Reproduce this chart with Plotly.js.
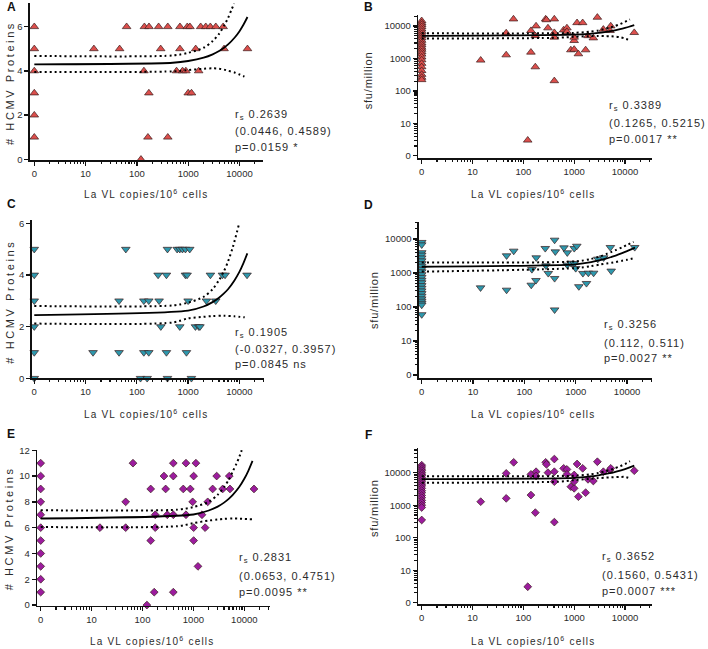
<!DOCTYPE html>
<html><head><meta charset="utf-8">
<script src="https://cdn.plot.ly/plotly-3.0.1.min.js"></script>
<style>html,body{margin:0;padding:0;background:#fff}#chart{width:708px;height:649px}</style>
</head><body><div id="chart"></div>
<script>
// ---------- DATA (x = La VL copies/10^6 cells, 0 drawn at the "1" position) ----------
const xTickVals = [1, 10, 100, 1000, 10000];
const xTickText = ['0', '10', '100', '1000', '10000'];
const yLogTickVals = [1, 10, 100, 1000, 10000];
const yLogTickText = ['0', '10', '100', '1000', '10000'];

// Panel A: # HCMV proteins (triangles, red)
const aX = [0,0,0,0,0,0, 63,140,172,265,400,690,960,1080,1750,2200,2700,3450,4800, 14.5,46,291,690,1400,5000,14300, 137,593,776,900,1600, 171,1000,1160, 164,400, 120];
const aY = [6,5,4,3,2,1, 6,6,6,6,6,6,6,6,6,6,6,6,6, 5,5,5,5,5,5,5, 4,4,4,4,4, 3,3,3, 1,1, 0];
const aFitX = [0, 500, 1000, 2000, 3000, 4000, 5000, 6000, 8000, 10000, 12000, 14300];
const aFitY = [4.30, 4.37, 4.45, 4.60, 4.75, 4.90, 5.05, 5.20, 5.50, 5.80, 6.10, 6.44];
const aUpX = [0, 500, 1000, 2000, 3000, 4000, 5000, 6000, 7000, 7900];
const aUpY = [4.68, 4.70, 4.82, 5.05, 5.35, 5.68, 6.05, 6.40, 6.78, 7.05];
const aLoX = [0, 500, 1000, 2000, 3000, 4000, 5000, 6000, 8000, 10000, 12000, 14300];
const aLoY = [3.95, 3.98, 4.04, 4.10, 4.12, 4.10, 4.06, 4.01, 3.93, 3.84, 3.76, 3.68];

// Panel B: sfu/million (triangles, red)
const bX = [0,0,0,0,0,0,0,0,0,0,0,0,0,0,0,0,0,0,0,0,0,0,0,0,
  14.5,46,46,64,122,141,141,172,178,172,275,285,305,407,407,407,407,620,720,720,860,1000,1000,1000,1140,1210,1470,1680,1870,2380,2860,3750,5070,5240,15200];
const bY = [14500,12500,11000,9500,8000,6800,5800,5000,4300,3600,3000,2600,2200,1900,1600,1350,1100,900,700,550,420,320,260,220,
  880,6100,1280,16400,3,7200,1550,547,10000,5000,16400,15500,8700,6240,4500,16400,204,7530,8700,6700,1830,1900,3540,4500,12600,1380,12600,1830,5000,4270,18500,7900,7200,10000,6250];
const bFitX = [0, 1000, 2000, 3000, 4000, 5000, 6000, 8000, 10000, 12000, 15200];
const bFitY = [5000, 5400, 5750, 6100, 6500, 6900, 7250, 8000, 8750, 9500, 10700];
const bUpX = [0, 500, 1000, 2000, 3000, 4000, 5000, 6000, 8000, 10000, 12500];
const bUpY = [5950, 5980, 6150, 6650, 7300, 8100, 8900, 9700, 11500, 13500, 16000];
const bLoX = [0, 500, 1000, 2000, 3000, 4000, 5000, 6000, 8000, 10000, 12500];
const bLoY = [4100, 4350, 4650, 4880, 4950, 4900, 4850, 4750, 4500, 4100, 3650];

// Panel C: # HCMV proteins (inverted triangles, teal)
const cX = [0,0,0,0,0,0, 61,396,611,688,776,887,1075, 260,378,887,956,2722,4670,5260,14100, 45,137,171,272,1000,2276,3459, 294,688,1390,1614,1700, 14,45,137,171,378,929, 118,159,396,1160];
const cY = [5,4,3,2,1,0, 5,5,5,5,5,5,5, 4,4,4,4,4,4,4,4, 3,3,3,3,3,3,3, 2,2,2,2,2, 1,1,1,1,1,1, 0,0,0,0];
const cFitX = [0, 1000, 2000, 3000, 4000, 5000, 6000, 8000, 10000, 12000, 14300];
const cFitY = [2.45, 2.62, 2.78, 2.95, 3.12, 3.29, 3.45, 3.79, 4.12, 4.46, 4.84];
const cUpX = [0, 500, 1000, 2000, 3000, 4000, 5000, 6000, 7500, 9800];
const cUpY = [2.80, 2.82, 2.93, 3.15, 3.45, 3.80, 4.15, 4.52, 5.10, 5.96];
const cLoX = [0, 500, 1000, 2000, 3000, 5000, 8000, 12700];
const cLoY = [2.12, 2.16, 2.32, 2.38, 2.41, 2.42, 2.40, 2.36];

// Panel D: sfu/million (inverted triangles, teal)
const dX = [0,0,0,0,0,0,0,0,0,0,0,0,0,0,0,0,0,0,0,0,0,0,0,0,
  14,45,45,62,136,140,168,170,255,263,292,388,388,388,400,590,685,685,807,935,935,1000,1050,1150,1380,1620,1760,2230,2690,3500,4730,4910,14100];
const dY = [8000,6800,4000,3400,2800,2300,1900,1600,1300,1100,900,750,620,520,430,360,300,250,210,175,150,130,115,60,
  370,3240,316,4440,443,1280,608,2830,5320,1640,980,9350,697,83,4240,5560,3970,1720,1960,5320,1900,1370,6200,400,980,497,1000,1000,2580,2830,5690,1150,5690];
const dFitX = [0, 1000, 2000, 3000, 4000, 5000, 6000, 8000, 10000, 12000, 14300];
const dFitY = [1530, 1800, 2080, 2400, 2680, 2980, 3260, 3830, 4400, 4970, 5600];
const dUpX = [0, 1000, 2000, 3000, 4000, 5000, 6000, 8000, 10000, 13400];
const dUpY = [2050, 2200, 2600, 3100, 3650, 4200, 4700, 5700, 6700, 8300];
const dLoX = [0, 1000, 2000, 3000, 4000, 5000, 6000, 8000, 10000, 14300];
const dLoY = [1100, 1400, 1600, 1780, 1900, 2000, 2100, 2300, 2450, 2800];

// Panel E: # HCMV proteins (diamonds, purple)
const eX = [0,0,0,0,0,0,0,0,0,0,0,
  14.6,46.7,46.7,65,122,145,145,170,178,178,264,285,307,403,403,403,403,632,715,715,870,966,1011,1011,1011,1120,1230,1475,1700,1910,2390,2866,3760,5070,5230,15500];
const eY = [11,10,9,8,7,6,5,4,3,2,1,
  6,8,6,11,0,9,5,1,7,6,10,9,7,11,10,7,1,9,11,7,9,8,10,6,5,11,3,7,6,8,9,10,9,10,9,9];
const eFitX = [0, 1000, 2000, 3000, 4000, 5000, 6000, 8000, 10000, 12000, 14500];
const eFitY = [6.71, 7.02, 7.33, 7.63, 7.94, 8.25, 8.56, 9.17, 9.79, 10.41, 11.18];
const eUpX = [0, 500, 1000, 2000, 3000, 4000, 5000, 6000, 7000, 8000, 8900];
const eUpY = [7.35, 7.40, 7.60, 8.00, 8.55, 9.15, 9.75, 10.40, 10.95, 11.50, 12.0];
const eLoX = [0, 500, 1000, 2000, 3000, 4000, 6000, 8000, 10000, 14500];
const eLoY = [6.05, 6.12, 6.35, 6.55, 6.63, 6.68, 6.71, 6.70, 6.68, 6.65];

// Panel F: sfu/million (diamonds, purple)
const fX = [0,0,0,0,0,0,0,0,0,0,0,0,0,0,0,0,0,0,0,0,0,0,
  14.5,46,46,64.5,122,141,141,172,178,178,275,285,305,407,407,407,407,620,720,720,860,1000,1000,1000,1140,1210,1470,1680,1870,2380,2860,3750,5070,5240,15200];
const fY = [17000,15000,13000,11500,10000,9000,8000,7000,6000,5200,4500,3900,3300,2800,2400,2000,1700,1400,1200,1000,850,350,
  1280,9530,1620,20800,3.1,8900,2050,590,10700,7900,20800,18000,10000,26300,10700,5290,302,13600,12600,8900,3700,3300,5290,8500,18500,1830,13600,2430,6240,5540,21700,10700,12000,13600,11500];
const fFitX = [0, 1000, 2000, 3000, 4000, 5000, 6000, 8000, 10000, 12000, 15200];
const fFitY = [6300, 6965, 7630, 8295, 8960, 9625, 10290, 11620, 12950, 14280, 16400];
const fUpX = [0, 500, 1000, 2000, 3000, 4000, 5000, 6000, 8000, 10000, 12500];
const fUpY = [7800, 7850, 8000, 8800, 9800, 10900, 12100, 13300, 15800, 18500, 22500];
const fLoX = [0, 500, 1000, 2000, 3000, 4000, 5000, 6000, 8000, 10000, 12500];
const fLoY = [4900, 5300, 5900, 6450, 6800, 7000, 7150, 7250, 7400, 7400, 6700];

// statistics text
const statsA = ['r<sub>s</sub> 0.2639', '(0.0446, 0.4589)', 'p=0.0159 *'];
const statsB = ['r<sub>s</sub> 0.3389', '(0.1265, 0.5215)', 'p=0.0017 **'];
const statsC = ['r<sub>s</sub> 0.1905', '(-0.0327, 0.3957)', 'p=0.0845 ns'];
const statsD = ['r<sub>s</sub> 0.3256', '(0.112, 0.511)', 'p=0.0027 **'];
const statsE = ['r<sub>s</sub> 0.2831', '(0.0653, 0.4751)', 'p=0.0095 **'];
const statsF = ['r<sub>s</sub> 0.3652', '(0.1560, 0.5431)', 'p=0.0007 ***'];

// ---------- LAYOUT / STYLE ----------
const W = 708, H = 649;
const FONT = 'Liberation Sans, Arial, Helvetica, sans-serif';
const RED = '#dc4f4c', TEAL = '#2e98ad', PURPLE = '#9c1c9e';
const zeroAtOne = v => (v === 0 ? 1 : v);

const minorLog = [];
[1, 10, 100, 1000, 10000].forEach(d => { for (let k = 2; k <= 9; k++) minorLog.push(k * d); });

const panels = [
  {n: 1, X: aX, Y: aY, logY: false, sym: 'triangle-up', col: RED, size: 7.5,
   fit: [aFitX, aFitY], up: [aUpX, aUpY], lo: [aLoX, aLoY],
   box: {l: 30, r: 263, t: 3.3, b: 160}, xr: [-0.084, 4.458], yr: [-0.03, 7.06], yt: [0, 2, 4, 6],
   letter: ['A', 5, 7], ytitle: ['# HCMV Proteins', 10, 83, 2.6], xtitle: [146, 194],
   stats: statsA, sp: [233.3, 115, 131, 146.7]},
  {n: 2, X: bX, Y: bY, logY: true, sym: 'triangle-up', col: RED, size: 7.5,
   fit: [bFitX, bFitY], up: [bUpX, bUpY], lo: [bLoX, bLoY],
   box: {l: 418.3, r: 651.7, t: 15, b: 158.3}, xr: [-0.066, 4.525], yr: [-0.08, 4.34],
   letter: ['B', 362, 7], ytitle: ['sfu/million', 368.3, 80, 0.8], xtitle: [533.3, 194],
   stats: statsB, sp: [607, 105.7, 123.3, 139.3]},
  {n: 3, X: cX, Y: cY, logY: false, sym: 'triangle-down', col: TEAL, size: 7.5,
   fit: [cFitX, cFitY], up: [cUpX, cUpY], lo: [cLoX, cLoY],
   box: {l: 31.7, r: 264, t: 220, b: 378.3}, xr: [-0.05, 4.48], yr: [0, 6.13], yt: [0, 2, 4, 6],
   letter: ['C', 5, 204], ytitle: ['# HCMV Proteins', 10, 301.7, 2.6], xtitle: [146, 414],
   stats: statsC, sp: [233.3, 333.3, 349, 364]},
  {n: 4, X: dX, Y: dY, logY: true, sym: 'triangle-down', col: TEAL, size: 7.5,
   fit: [dFitX, dFitY], up: [dUpX, dUpY], lo: [dLoX, dLoY],
   box: {l: 419, r: 651.7, t: 221.7, b: 378.3}, xr: [-0.053, 4.48], yr: [-0.097, 4.51],
   letter: ['D', 362, 205], ytitle: ['sfu/million', 374, 300, 0.8], xtitle: [533.3, 414],
   stats: statsD, sp: [601.7, 325, 342.7, 358.3]},
  {n: 5, X: eX, Y: eY, logY: false, sym: 'diamond', col: PURPLE, size: 6,
   fit: [eFitX, eFitY], up: [eUpX, eUpY], lo: [eLoX, eLoY],
   box: {l: 37.3, r: 270, t: 450, b: 605.7}, xr: [-0.067, 4.505], yr: [-0.05, 12.02], yt: [0, 2, 4, 6, 8, 10, 12],
   letter: ['E', 5, 434], ytitle: ['# HCMV Proteins', 9.3, 528, 2.6], xtitle: [151.7, 640.7],
   stats: statsE, sp: [237.3, 558.3, 575.7, 591.7]},
  {n: 6, X: fX, Y: fY, logY: true, sym: 'diamond', col: PURPLE, size: 6,
   fit: [fFitX, fFitY], up: [fUpX, fUpY], lo: [fLoX, fLoY],
   box: {l: 418.3, r: 651.7, t: 448.3, b: 604}, xr: [-0.067, 4.525], yr: [-0.04, 4.75],
   letter: ['F', 363, 435], ytitle: ['sfu/million', 374, 508, 0.8], xtitle: [533.3, 640.7],
   stats: statsF, sp: [600, 556.7, 575, 590.7]}
];

const traces = [];
const layout = {
  width: W, height: H, margin: {l: 0, r: 0, t: 0, b: 0},
  paper_bgcolor: '#fff', plot_bgcolor: 'rgba(0,0,0,0)', showlegend: false,
  font: {family: FONT, color: '#222'}, annotations: []
};

const TXT = '#2b2b2b';
panels.forEach(p => {
  const xs = p.n === 1 ? '' : String(p.n);
  const xa = 'x' + xs, ya = 'y' + xs;
  const yMap = p.logY ? zeroAtOne : (v => v);

  traces.push({type: 'scatter', mode: 'markers', xaxis: xa, yaxis: ya,
    x: p.X.map(zeroAtOne), y: p.Y.map(yMap), cliponaxis: false,
    marker: {symbol: p.sym, size: p.size, color: p.col, line: {color: '#3a1d1d', width: 0.7}},
    hoverinfo: 'skip'});
  traces.push({type: 'scatter', mode: 'lines', xaxis: xa, yaxis: ya,
    x: p.fit[0].map(zeroAtOne), y: p.fit[1].map(yMap),
    line: {color: '#000', width: 1.8, shape: 'spline', smoothing: 0.8}, hoverinfo: 'skip'});
  [p.up, p.lo].forEach(b => traces.push({type: 'scatter', mode: 'lines', xaxis: xa, yaxis: ya,
    x: b[0].map(zeroAtOne), y: b[1].map(yMap),
    line: {color: '#000', width: 2, dash: '2px,3px', shape: 'spline', smoothing: 0.8}, hoverinfo: 'skip'}));

  const common = {showline: true, linecolor: '#111', linewidth: 1.6, showgrid: false, zeroline: false,
    ticks: 'outside', ticklen: 4, tickwidth: 1.3, tickcolor: '#111',
    tickfont: {family: FONT, size: 9.5, color: TXT}, fixedrange: true};

  layout['xaxis' + xs] = Object.assign({}, common, {
    type: 'log', anchor: ya, domain: [p.box.l / W, p.box.r / W], range: p.xr,
    tickmode: 'array', tickvals: xTickVals, ticktext: xTickText,
    minor: {tickmode: 'array', tickvals: minorLog, ticks: 'outside', ticklen: 2.5, tickwidth: 1.1, tickcolor: '#111', showgrid: false}
  });
  const yax = Object.assign({}, common, {
    anchor: xa, domain: [1 - p.box.b / H, 1 - p.box.t / H], range: p.yr, tickmode: 'array'
  });
  if (p.logY) {
    yax.type = 'log';
    yax.tickvals = yLogTickVals; yax.ticktext = yLogTickText;
    yax.minor = {tickmode: 'array', tickvals: minorLog, ticks: 'outside', ticklen: 2.5, tickwidth: 1.1, tickcolor: '#111', showgrid: false};
  } else {
    yax.type = 'linear';
    yax.tickvals = p.yt;
  }
  layout['yaxis' + xs] = yax;

  const A = layout.annotations;
  A.push({xref: 'paper', yref: 'paper', x: p.letter[1] / W, y: 1 - p.letter[2] / H, xanchor: 'left', yanchor: 'middle',
    text: '<b>' + p.letter[0] + '</b>', showarrow: false, font: {family: FONT, size: 12, color: '#111'}});
  A.push({xref: 'paper', yref: 'paper', x: p.ytitle[1] / W, y: 1 - p.ytitle[2] / H, xanchor: 'center', yanchor: 'middle',
    textangle: -90, text: '<span style="letter-spacing:' + p.ytitle[3] + 'px">' + p.ytitle[0] + '</span>',
    showarrow: false, font: {family: FONT, size: 11, color: TXT}});
  A.push({xref: 'paper', yref: 'paper', x: p.xtitle[0] / W, y: 1 - p.xtitle[1] / H, xanchor: 'center', yanchor: 'middle',
    text: '<span style="letter-spacing:1.2px">La VL copies/10<sup>6</sup> cells</span>',
    showarrow: false, font: {family: FONT, size: 10, color: TXT}});
  p.stats.forEach((s, i) => A.push({xref: 'paper', yref: 'paper', x: p.sp[0] / W, y: 1 - p.sp[i + 1] / H,
    xanchor: 'left', yanchor: 'middle', text: '<span style="letter-spacing:1px">' + s + '</span>',
    showarrow: false, font: {family: FONT, size: 11, color: TXT}}));
});

Plotly.newPlot('chart', traces, layout, {staticPlot: true, displayModeBar: false});
</script></body></html>
